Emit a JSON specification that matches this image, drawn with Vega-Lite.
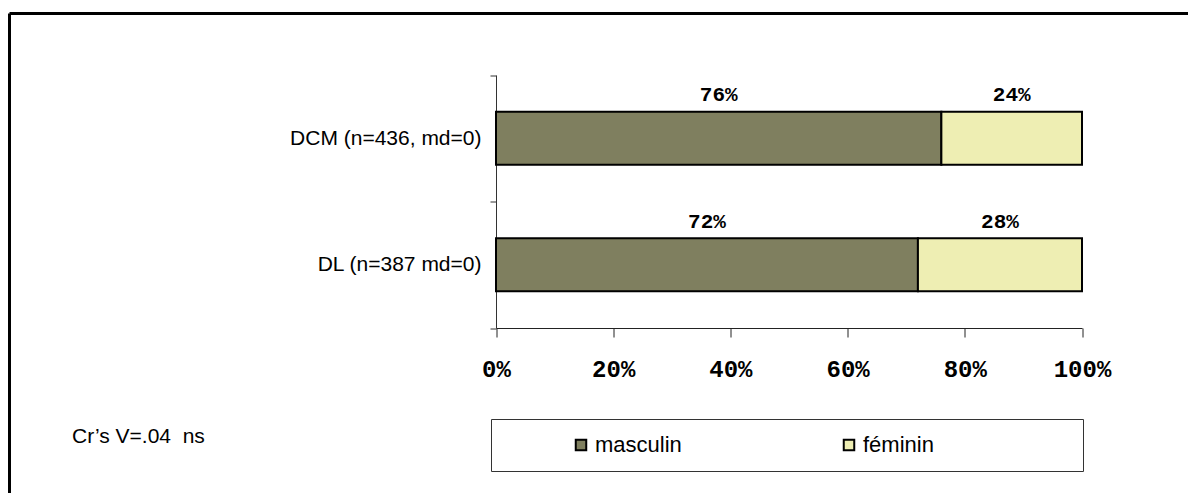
{
  "$schema": "https://vega.github.io/schema/vega-lite/v6.json",
  "width": 1300,
  "height": 484,
  "autosize": "none",
  "padding": {"left": 9.5, "top": 13.5, "right": 0, "bottom": -4.5},
  "background": "white",
  "view": {"stroke": "black", "strokeWidth": 3, "strokeDash": [1178.5, 1905.5, 484, 0], "fill": "white"},
  "title": {
    "text": "Cr’s V=.04\u00a0 ns",
    "anchor": "start",
    "frame": "group",
    "orient": "top",
    "offset": 0,
    "dx": 62.5,
    "dy": 455.5,
    "baseline": "middle",
    "font": "Liberation Sans",
    "fontSize": 21,
    "fontWeight": "normal",
    "color": "black"
  },
  "data": {
    "values": [
      {"groupe": "DCM (n=436, md=0)", "sexe": "masculin", "pct": 0.76},
      {"groupe": "DCM (n=436, md=0)", "sexe": "féminin", "pct": 0.24},
      {"groupe": "DL (n=387 md=0)", "sexe": "masculin", "pct": 0.72},
      {"groupe": "DL (n=387 md=0)", "sexe": "féminin", "pct": 0.28}
    ]
  },
  "encoding": {
    "y": {
      "field": "groupe",
      "type": "nominal",
      "sort": null,
      "scale": {"range": [61.5, 314.5], "padding": 0},
      "axis": {
        "title": null,
        "orient": "left",
        "offset": -486.5,
        "tickBand": "extent",
        "tickSize": 6,
        "tickColor": "#333",
        "domainColor": "#333",
        "labelFont": "Liberation Sans",
        "labelFontSize": 21,
        "labelColor": "black",
        "labelPadding": 9,
        "labelLimit": 400,
        "grid": false
      }
    }
  },
  "layer": [
    {
      "mark": {"type": "bar", "height": {"band": 0.42}, "stroke": "black", "strokeWidth": 2},
      "encoding": {
        "x": {
          "field": "pct",
          "type": "quantitative",
          "stack": "zero",
          "scale": {"domain": [0, 1], "range": [486.5, 1072.5], "nice": false},
          "axis": {
            "title": null,
            "orient": "bottom",
            "offset": -169.5,
            "values": [0, 0.2, 0.4, 0.6, 0.8, 1],
            "format": ".0%",
            "tickSize": 9,
            "tickColor": "#222",
            "domainColor": "#222",
            "labelFont": "Liberation Mono",
            "labelFontWeight": "bold",
            "labelFontSize": 24,
            "labelPadding": 20,
            "labelColor": "black",
            "labelFlush": false,
            "labelOverlap": false,
            "grid": false
          }
        },
        "order": {"field": "sexe", "sort": "descending"},
        "color": {
          "field": "sexe",
          "type": "nominal",
          "scale": {"domain": ["masculin", "féminin"], "range": ["#7f7f5f", "#eeeeb3"]},
          "legend": {
            "title": " ",
            "titleOrient": "right",
            "titlePadding": 134,
            "titleFontSize": 1,
            "orient": "none",
            "legendX": 481.5,
            "legendY": 405.5,
            "direction": "horizontal",
            "columns": 2,
            "columnPadding": 92,
            "padding": 15,
            "strokeColor": "#333",
            "symbolType": "square",
            "symbolSize": 110,
            "symbolStrokeColor": "black",
            "symbolStrokeWidth": 2,
            "symbolOffset": 64,
            "labelOffset": 3,
            "labelFont": "Liberation Sans",
            "labelFontSize": 22,
            "labelColor": "black",
            "labelLimit": 300
          }
        }
      }
    },
    {
      "transform": [
        {
          "stack": "pct",
          "groupby": ["groupe"],
          "sort": [{"field": "sexe", "order": "descending"}],
          "as": ["debut", "fin"]
        },
        {"fold": ["debut", "fin"], "as": ["bord", "position"]},
        {
          "aggregate": [{"op": "mean", "field": "position", "as": "milieu"}],
          "groupby": ["groupe", "sexe", "pct"]
        }
      ],
      "mark": {
        "type": "text",
        "font": "Liberation Mono",
        "fontWeight": "bold",
        "fontSize": 21,
        "dy": -43,
        "baseline": "middle",
        "align": "center",
        "color": "black"
      },
      "encoding": {
        "x": {"field": "milieu", "type": "quantitative"},
        "text": {"field": "pct", "type": "quantitative", "format": ".0%"}
      }
    }
  ]
}
